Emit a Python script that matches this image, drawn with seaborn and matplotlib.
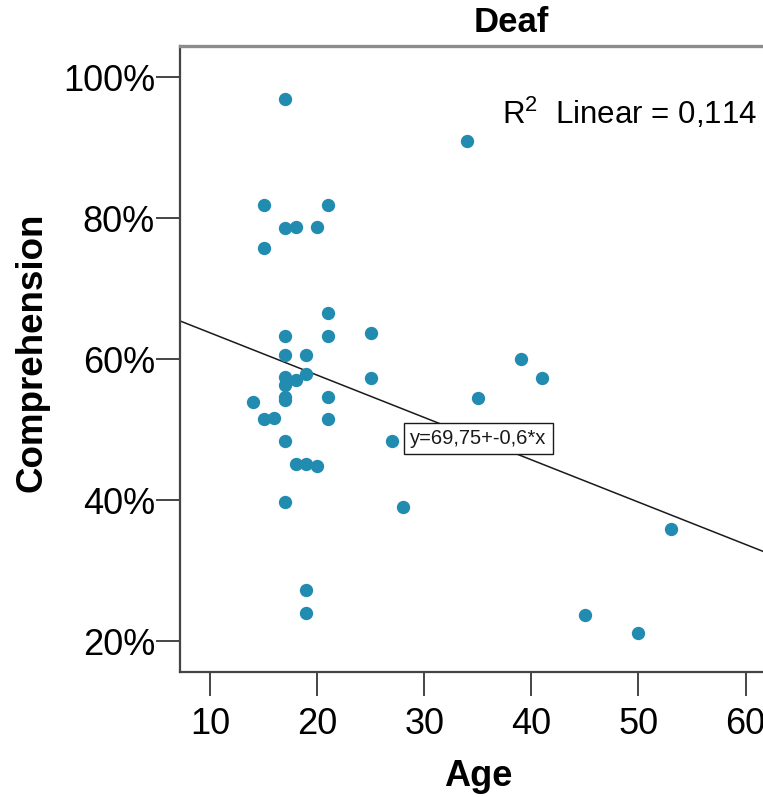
import matplotlib
matplotlib.use("Agg")
import matplotlib.pyplot as plt
import numpy as np
import pandas as pd
import seaborn as sns

# Age (years) and comprehension score (%) for the deaf group
age = [17, 34, 15, 21, 17, 18, 20, 15, 21,
       17, 21, 25, 17, 19, 39,
       17, 18, 19, 17, 25, 41,
       14, 17, 17, 21, 35,
       15, 16, 21, 17, 27,
       18, 19, 20, 17, 28,
       53, 19, 19, 45, 50]
comprehension = [96.9, 90.9, 81.8, 81.8, 78.6, 78.7, 78.7, 75.8, 66.6,
                 63.3, 63.3, 63.7, 60.6, 60.6, 60.0,
                 57.5, 57.1, 57.9, 56.4, 57.4, 57.3,
                 54.0, 54.6, 54.2, 54.6, 54.5,
                 51.5, 51.7, 51.5, 48.4, 48.4,
                 45.1, 45.2, 44.8, 39.8, 39.0,
                 36.0, 27.3, 24.1, 23.8, 21.2]

# Linear fit reported for this group
intercept = 69.75
slope = -0.6
r_squared = "0,114"

x_ticks = [10, 20, 30, 40, 50, 60]
y_ticks = [20, 40, 60, 80, 100]
y_tick_labels = ["20%", "40%", "60%", "80%", "100%"]

df = pd.DataFrame({"Age": age, "Comprehension": comprehension})

sns.set_style("white")
plt.rcParams["font.family"] = ["Liberation Sans", "DejaVu Sans"]
plt.rcParams["mathtext.fontset"] = "custom"
plt.rcParams["mathtext.rm"] = "Liberation Sans"
plt.rcParams["text.color"] = "black"

W, H = 763, 797
fig = plt.figure(figsize=(W / 100, H / 100), dpi=100)

left_px, right_px, top_px, bottom_px = 180, 843, 46, 672
ax = fig.add_axes([left_px / W, 1 - bottom_px / H,
                   (right_px - left_px) / W, (bottom_px - top_px) / H])

point_color = "#228bb0"
sns.scatterplot(data=df, x="Age", y="Comprehension", ax=ax,
                s=92, color=point_color, linewidth=0, zorder=3)

xlim = (7.2, 69.1)
ylim = (15.67, 104.4)
ax.set_xlim(*xlim)
ax.set_ylim(*ylim)

# Fitted regression line across the full x range
xs = np.array(xlim)
ax.plot(xs, intercept + slope * xs, color="#1a1a1a", lw=1.1, zorder=2)

ax.text(35.05, 48.8, "y=69,75+-0,6*x", fontsize=14.5, ha="center", va="center",
        color="#1a1a1a", zorder=4,
        bbox=dict(boxstyle="square,pad=0.3", facecolor="white",
                  edgecolor="#1a1a1a", linewidth=1.0))

ax.set_xticks(x_ticks)
ax.set_xticklabels([str(t) for t in x_ticks])
ax.set_yticks(y_ticks)
ax.set_yticklabels(y_tick_labels)
ax.tick_params(axis="both", which="major", direction="out", length=17,
               width=1.4, color="#444444", labelsize=26, labelcolor="black",
               bottom=True, left=True)
ax.tick_params(axis="x", pad=8)
ax.tick_params(axis="y", pad=1)
ax.set_xlabel("")
ax.set_ylabel("")

for side in ["left", "bottom"]:
    ax.spines[side].set_color("#444444")
    ax.spines[side].set_linewidth(1.6)
ax.spines["top"].set_color("#8c8c8c")
ax.spines["top"].set_linewidth(2.4)
ax.spines["right"].set_visible(False)

fig.text(511 / W, 1 - 22 / H, "Deaf", fontsize=25, fontweight="bold",
         ha="center", va="center", color="black")
fig.text(478 / W, 1 - 776 / H, "Age", fontsize=26, fontweight="bold",
         ha="center", va="center", color="black")
fig.text(32 / W, 1 - 352 / H, "Comprehension", fontsize=26.5, fontweight="bold",
         ha="center", va="center", rotation=90, color="black")
fig.text(757 / W, 1 - 113 / H, r"R$^{2}$  Linear = " + r_squared, fontsize=22.5,
         ha="right", va="center", color="black")

fig.savefig("out.png", dpi=100)
